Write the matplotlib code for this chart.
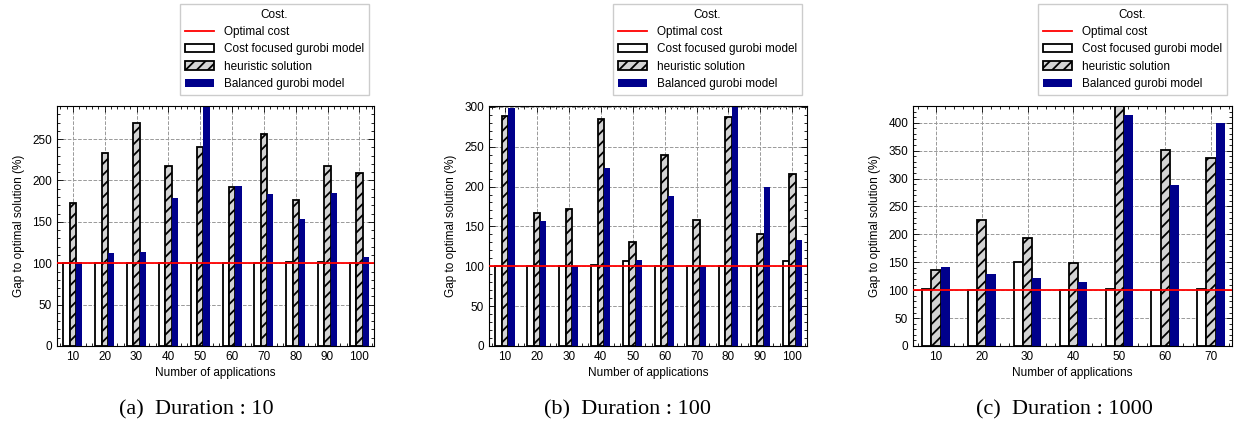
import numpy as np
import matplotlib
matplotlib.use('Agg')
import matplotlib.pyplot as plt
from matplotlib.ticker import MultipleLocator

# --- donnees ---
apps_a = [10, 20, 30, 40, 50, 60, 70, 80, 90, 100]
cost_a = [100, 100, 100, 100, 100, 100, 100, 101, 101, 100]
heur_a = [173, 233, 270, 218, 240, 192, 256, 176, 218, 209]
bal_a = [101, 112, 114, 179, 310, 193, 184, 153, 185, 107]

apps_b = [10, 20, 30, 40, 50, 60, 70, 80, 90, 100]
cost_b = [100, 100, 100, 102, 107, 100, 100, 100, 100, 107]
heur_b = [288, 167, 172, 285, 131, 240, 158, 287, 140, 216]
bal_b = [298, 157, 100, 223, 108, 188, 100, 310, 199, 133]

apps_c = [10, 20, 30, 40, 50, 60, 70]
cost_c = [102, 100, 151, 100, 102, 100, 102]
heur_c = [136, 225, 193, 149, 440, 351, 336]
bal_c = [141, 129, 121, 115, 413, 288, 399]

optimal = 100
captions = ['(a)  Duration : 10', '(b)  Duration : 100', '(c)  Duration : 1000']
ylims = [290, 301, 430]

plt.rcParams['font.family'] = ['Liberation Sans', 'DejaVu Sans']
plt.rcParams['font.size'] = 8
plt.rcParams['hatch.linewidth'] = 1.3

fig = plt.figure(figsize=(12.35, 4.29), dpi=100)

positions = [
    [57 / 1235, 83 / 429, 317 / 1235, 240 / 429],
    [489 / 1235, 83 / 429, 318 / 1235, 240 / 429],
    [913 / 1235, 83 / 429, 319 / 1235, 240 / 429],
]
dane = [
    (apps_a, cost_a, heur_a, bal_a),
    (apps_b, cost_b, heur_b, bal_b),
    (apps_c, cost_c, heur_c, bal_c),
]
caption_x = [196, 627, 1064]

szer = 2.0
for i, (apps, cost, heur, bal) in enumerate(dane):
    ax = fig.add_axes(positions[i])
    x = np.array(apps)
    ax.set_axisbelow(True)
    ax.grid(True, linestyle='--', color='#999999', linewidth=0.7)

    ax.axhline(optimal, color='red', linewidth=1.3, label='Optimal cost', zorder=5)
    ax.bar(x - szer, cost, szer, color='white', edgecolor='black', linewidth=1.3,
           label='Cost focused gurobi model')
    ax.bar(x, heur, szer, color='#d3d3d3', edgecolor='black', linewidth=1.3,
           hatch='///', label='heuristic solution')
    ax.bar(x + szer, bal, szer, color='#00008b', edgecolor='#00008b', linewidth=0,
           label='Balanced gurobi model')

    ax.set_xlim(5, x[-1] + 4.6)
    ax.set_ylim(0, ylims[i])
    ax.set_xticks(apps)
    ax.xaxis.set_minor_locator(MultipleLocator(2))
    ax.yaxis.set_major_locator(MultipleLocator(50))
    ax.yaxis.set_minor_locator(MultipleLocator(10))
    ax.tick_params(which='both', direction='in', top=True, right=True, labelsize=8.5)
    ax.tick_params(which='major', length=4, width=0.6)
    ax.tick_params(which='minor', length=2, width=0.6)
    for s in ax.spines.values():
        s.set_linewidth(0.8)

    ax.set_xlabel('Number of applications', fontsize=8.5, labelpad=3)
    ax.set_ylabel('Gap to optimal solution (%)', fontsize=8.5, labelpad=5)

    ax.legend(title='Cost.', title_fontsize=8.5, fontsize=8.5,
              loc='upper right', bbox_to_anchor=(0.983, 1.425), borderaxespad=0,
              frameon=True, fancybox=False, edgecolor='#cccccc', framealpha=1,
              handlelength=2.5, labelspacing=0.45)

    fig.text(caption_x[i] / 1235, 0.044, captions[i], ha='center', va='center',
             fontsize=16, family=['Liberation Serif', 'DejaVu Serif'])

fig.savefig('out.png', dpi=100)
